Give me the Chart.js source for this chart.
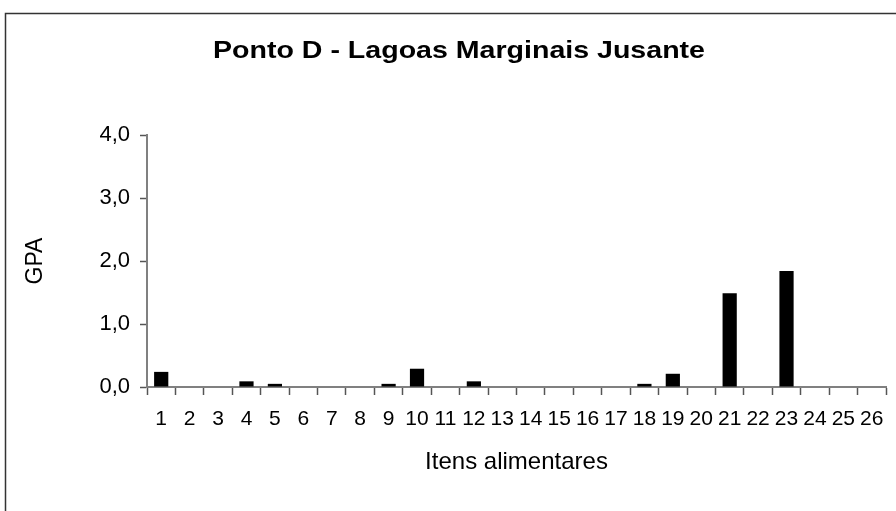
<!DOCTYPE html>
<html>
<head>
<meta charset="utf-8">
<script src="https://cdn.jsdelivr.net/npm/chart.js@4.4.1/dist/chart.umd.min.js"></script>
<style>
  html, body { margin: 0; padding: 0; background: #ffffff; }
  #wrap { position: relative; width: 896px; height: 511px; }
</style>
</head>
<body>
<div id="wrap"><canvas id="chart" width="896" height="511"></canvas></div>
<script>
// Food items (1–26) and their GPA values
const categories = ['1','2','3','4','5','6','7','8','9','10','11','12','13','14','15','16','17','18','19','20','21','22','23','24','25','26'];
const gpaValues = [0.24, 0, 0, 0.09, 0.05, 0, 0, 0, 0.05, 0.29, 0, 0.09, 0, 0, 0, 0, 0, 0.05, 0.21, 0, 1.49, 0, 1.84, 0, 0, 0];
const yTickLabels = ['0,0', '1,0', '2,0', '3,0', '4,0'];

const chartTitle = 'Ponto D - Lagoas Marginais Jusante';
const xTitle = 'Itens alimentares';
const yTitle = 'GPA';

const FONT = '"Liberation Sans", Arial, sans-serif';
const AXIS_GREY = '#808080';

// Outer frame and the chart heading
const framePlugin = {
  id: 'frame',
  afterDraw(chart) {
    const ctx = chart.ctx;
    ctx.save();
    ctx.strokeStyle = '#333333';
    ctx.lineWidth = 1.5;
    ctx.beginPath();
    ctx.moveTo(5.5, 520);
    ctx.lineTo(5.5, 13.5);
    ctx.lineTo(905, 13.5);
    ctx.stroke();

    ctx.fillStyle = '#000000';
    ctx.font = 'bold 24px ' + FONT;
    ctx.textAlign = 'center';
    ctx.textBaseline = 'alphabetic';
    ctx.translate(459, 58);
    ctx.scale(1.19, 1);
    ctx.fillText(chartTitle, 0, 0);
    ctx.restore();
  }
};

new Chart(document.getElementById('chart'), {
  type: 'bar',
  data: {
    labels: categories,
    datasets: [{
      label: yTitle,
      data: gpaValues,
      backgroundColor: '#000000',
      borderWidth: 0,
      barPercentage: 0.5,
      categoryPercentage: 1.0
    }]
  },
  options: {
    responsive: false,
    animation: false,
    devicePixelRatio: 1,
    layout: { padding: { top: 135, right: 10, bottom: 0, left: 0 } },
    plugins: {
      legend: { display: false },
      tooltip: { enabled: false },
      title: { display: false }
    },
    scales: {
      x: {
        type: 'category',
        offset: true,
        grid: {
          offset: true,
          drawOnChartArea: false,
          drawTicks: true,
          tickLength: 8,
          tickWidth: 1.5,
          tickColor: '#555555'
        },
        border: { display: true, color: AXIS_GREY, width: 2 },
        ticks: {
          autoSkip: false,
          maxRotation: 0,
          minRotation: 0,
          padding: 12,
          color: '#000000',
          font: { family: FONT, size: 21 }
        },
        title: {
          display: true,
          text: xTitle,
          color: '#000000',
          font: { family: FONT, size: 24 },
          padding: { top: 0, bottom: 34 }
        },
        afterFit(scale) { scale.height = 124; }
      },
      y: {
        min: 0,
        max: 4,
        grid: {
          drawOnChartArea: false,
          drawTicks: true,
          tickLength: 7,
          tickWidth: 1.5,
          tickColor: '#555555'
        },
        border: { display: true, color: AXIS_GREY, width: 2 },
        ticks: {
          stepSize: 1,
          padding: 10,
          color: '#000000',
          font: { family: FONT, size: 22 },
          callback: (value) => yTickLabels[Math.round(value)]
        },
        title: {
          display: true,
          text: yTitle,
          color: '#000000',
          font: { family: FONT, size: 23 },
          padding: { top: 22, bottom: 0 }
        },
        afterFit(scale) { scale.width = 147; }
      }
    }
  },
  plugins: [framePlugin]
});
</script>
</body>
</html>
